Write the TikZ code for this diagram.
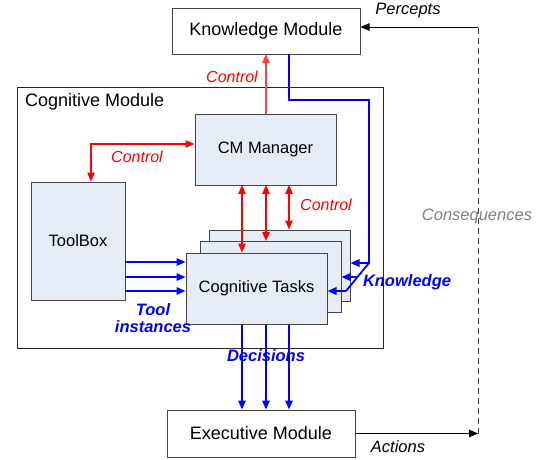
\documentclass[tikz,border=0pt]{standalone}
\usepackage{fontspec}
\setmainfont{Liberation Sans}
\usetikzlibrary{arrows.meta}
\definecolor{boxfill}{HTML}{E6ECF6}
\definecolor{edge}{HTML}{454545}
\begin{document}
\begin{tikzpicture}[x=1pt,y=-1pt,
  modbox/.style={draw=edge, fill=white, line width=1pt, font=\fontsize{18}{21}\selectfont, inner sep=0pt},
  innerbox/.style={draw=edge, fill=boxfill, line width=1pt, font=\fontsize{16.5}{19}\selectfont, inner sep=0pt},
  tip/.style={-{Triangle[length=9pt,width=7.5pt]}},
  redln/.style={draw=red, line width=1.3pt},
  blueln/.style={draw=blue, line width=1.8pt},
  redlbl/.style={text=red, font=\fontsize{16}{19}\selectfont\itshape},
  bluelbl/.style={text=blue, font=\fontsize{16.5}{19}\selectfont\bfseries\itshape, align=center},
  handlbl/.style={text=black, font=\fontsize{16.5}{19}\selectfont\itshape}]
\useasboundingbox (0,0) rectangle (539,459);

% boxes
\node[modbox, minimum width=188pt, minimum height=46pt] (km) at (266,31) {Knowledge Module};
\node[draw=black!85, line width=1pt, minimum width=366pt, minimum height=261pt, inner sep=0pt] (cog) at (200,217.5) {};
\node[anchor=west, font=\fontsize{18}{21}\selectfont, inner sep=0pt] (coglbl) at (25,102) {Cognitive Module};
\node[innerbox, minimum width=141pt, minimum height=71pt] (cm) at (265.5,149.5) {CM Manager};
\node[innerbox, minimum width=94pt, minimum height=118pt] (tb) at (78,241) {ToolBox};
\node[innerbox, minimum width=141pt, minimum height=71pt] (ct3) at (279.5,265.5) {};
\node[innerbox, minimum width=141pt, minimum height=71pt] (ct2) at (270.5,277) {};
\node[innerbox, minimum width=141pt, minimum height=71pt] (ct1) at (256.5,288.5) {Cognitive Tasks};
\node[modbox, minimum width=188pt, minimum height=47pt] (ex) at (261,433.5) {Executive Module};

% helper coordinates
\coordinate (kmb) at (266,54);
\coordinate (c1) at (242,185);
\coordinate (c2) at (266,185);
\coordinate (c3) at (289,185);
\coordinate (kb) at (289,54);
\coordinate (kturn1) at (289,100);
\coordinate (kturn2) at (369,100);
\coordinate (k3) at (369,263);
\coordinate (k2) at (357.5,277);
\coordinate (k1) at (346,291);
\coordinate (t1) at (125,262);
\coordinate (t2) at (125,277);
\coordinate (t3) at (125,291);
\coordinate (actend) at (478,433.5);
\coordinate (pstart) at (478,27);

% red control connectors
\draw[redln, draw=red!75, tip] (cm.north -| kmb) -- (kmb);
\draw[redln, {Triangle[length=9pt,width=7.5pt]}-{Triangle[length=9pt,width=7.5pt]}] ([yshift=5.5pt]cm.west) -| ([xshift=13pt]tb.north);
\foreach \c/\t in {c1/ct1, c2/ct2, c3/ct3}
  \draw[redln, {Triangle[length=9pt,width=7.5pt]}-{Triangle[length=9pt,width=7.5pt]}] (\c) -- (\c |- \t.north);

% knowledge connectors
\draw[blueln] (kb) -- (kturn1) -- (kturn2) -- (k3) -- (k1);
\draw[blueln, tip] (k3) -- (k3 -| ct3.east);
\draw[blueln, tip] (k2) -- (k2 -| ct2.east);
\draw[blueln, tip] (k1) -- (k1 -| ct1.east);

% tool instances
\foreach \t in {t1,t2,t3}
  \draw[blueln, tip] (\t) -- (\t -| ct1.west);

% decisions
\foreach \c in {c1,c2,c3}
  \draw[blueln, tip] (\c |- ct1.south) -- (\c |- ex.north);

% actions / percepts loop
\draw[line width=1pt, tip] (ex.east |- actend) -- (actend);
\draw[line width=1pt, draw=black!75, dashed, dash pattern=on 6pt off 4pt] (actend) -- (pstart);
\draw[line width=1pt, tip] (pstart) -- (pstart -| km.east);

% labels
\node[redlbl] (l1) at (232,77) {Control};
\node[redlbl] (l2) at (137,157) {Control};
\node[redlbl] (l3) at (326,205) {Control};
\node[bluelbl] (l4) at (407,282) {Knowledge};
\node[bluelbl] (l5) at (153,318) {Tool\\[-2pt]instances};
\node[bluelbl] (l6) at (266,356) {Decisions};
\node[text=black!50, font=\fontsize{16.5}{19}\selectfont\itshape] (l7) at (477,216) {Consequences};
\node[handlbl] (l8) at (408,11) {Percepts};
\node[handlbl] (l9) at (398,447) {Actions};
\end{tikzpicture}
\end{document}
